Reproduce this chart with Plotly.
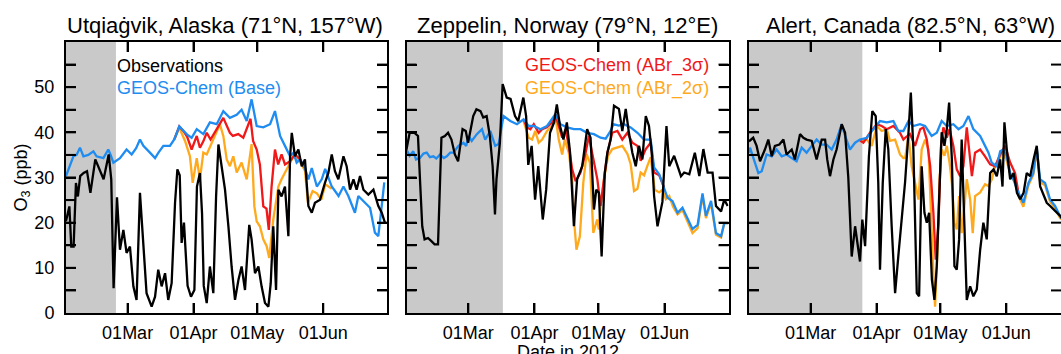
import pandas as pd
import plotly.graph_objects as go

START = "2012-02-01"

# ---------------- data (days since 01 Feb 2012, ozone in ppb) ----------------
site_titles = ["Utqiaġvik, Alaska (71°N, 157°W)", "Zeppelin, Norway (79°N, 12°E)",
               "Alert, Canada (82.5°N, 63°W)"]
month_ticks = ["2012-03-01", "2012-04-01", "2012-05-01", "2012-06-01"]
y_ticks = [0, 5, 10, 15, 20, 25, 30, 35, 40, 45, 50, 55, 60]
y_labels = ["0", "", "10", "", "20", "", "30", "", "40", "", "50", "", ""]
dark_end_days = [23.5, 45.2, 53.3]   # end of grey (polar night) period

# Utqiagvik
utq_obs_day = [0, 1.6, 2.5, 3.6, 4.7, 5.6, 6.7, 8.3, 9.9, 11.5, 13.8, 15.4, 17.7, 20.1, 21.3, 22.4,
               24, 25.4, 27, 28.5, 30.1, 31.7, 33.2, 34.8, 36.4, 37.9, 40.3, 41.9, 43.4, 45, 46.6,
               48.1, 49.7, 51.3, 52.4, 53.5, 54.4, 55.5, 57.2, 58.8, 60.4, 61.6, 63, 64, 64.8, 66.2,
               67.7, 69.3, 70.6, 71.7, 73.2, 74.8, 76.4, 77.9, 79.5, 81.1, 82.6, 84.2, 86.2, 87.3,
               88.9, 90.5, 92, 93.6, 95.2, 96.3, 97.5, 98.8, 99.9, 101.4, 103, 104.6, 105.4, 106.2,
               107.7, 109.3, 110.9, 112.4, 114, 115.6, 117.1, 119.5, 121.8, 123.4, 125, 126.5,
               128.1, 130.5, 132, 133.6, 135.2, 136.7, 138.3, 139.9, 142.2, 144.6, 146.9, 148.5, 150]
utq_obs = [20.3, 23.6, 14.7, 14.7, 28.8, 25.8, 30.3, 31, 31.4, 26.6, 34, 32.2, 29.6, 35.1, 29.6, 5.5,
           25.6, 14, 18.4, 13.3, 14.7, 5.9, 2.9, 26.6, 16.3, 4.4, 1.4, 3.6, 9.6, 5.9, 8.8,
           2.9, 6.6, 24.4, 31.8, 30.5, 15.5, 20, 6, 3.6, 5.1, 28, 31, 22, 6, 2.2,
           10.3, 4.4, 25.8, 37.3, 32.5, 27.3, 19.2, 10.3, 2.9, 7.3, 10.3, 5.1, 19.5, 16.3,
           8.8, 10.3, 5.9, 2.2, 1.4, 6.6, 19.2, 5.1, 27.3, 25.8, 28, 17, 34.7, 39.9,
           34.7, 36.2, 32.5, 34, 23.7, 22.2, 24.4, 25.1, 28.8, 31, 35.1, 31.4,
           29.6, 34.7, 32.5, 27.3, 29.6, 27.3, 30.3, 27.3, 26.2, 27.3, 23.7, 22.2, 20]
utq_base_day = [0, 2, 3.5, 5, 6.6, 8.2, 10.5, 12.9, 14.4, 17.6, 19.9, 21, 22.3, 25.4, 28.5, 30.9,
                33, 34.8, 36.4, 39.5, 41.9, 43.5, 45.8, 48.9, 51, 53.3, 55.2, 57, 59.1, 61.5, 64.6,
                67.7, 70.9, 74, 77.1, 80.3, 82.6, 85, 87.3, 89.7, 92.8, 96, 98.3, 100.7, 103,
                105.4, 107, 108.5, 110.1, 112.4, 114, 115.6, 118, 120.3, 121.9, 125, 128.2,
                130.5, 132.8, 135.9, 137.5, 140.6, 143, 145.3, 146.9, 148.5, 149.7]
utq_base = [30.3, 33, 34.7, 35, 36.6, 34.7, 35, 35.8, 34.7, 34.3, 36.2, 35, 33.3, 34.3, 36.2, 35.1,
            36.5, 38.4, 37, 35.5, 34.3, 35.5, 37, 37, 38.5, 41.3, 40.3, 39.5, 38.8, 40.7, 39.6,
            42.2, 41.8, 44.7, 43.2, 43.9, 45, 42.5, 47.3, 41.4, 41.1, 41.8, 44.7, 39.2, 37,
            34.7, 35.5, 33.3, 34, 32.1, 29.6, 32.1, 28, 29.6, 31.9, 28, 25.9,
            28, 25.9, 22.2, 25.9, 24.4, 23.3, 17.8, 17, 23.7, 28.9]
utq_abr3_day = [51, 53.3, 55.2, 57, 59.1, 61.5, 63, 64.6, 66.2, 68, 70.9, 74, 77.1, 78.5, 81, 83.4,
                86.8, 88, 89.7, 91.2, 92.8, 94.3, 95.4, 96.7, 98.3, 99.8, 101.4, 103, 105.4, 107.7,
                110.1, 112.4]
utq_abr3 = [38.5, 41.3, 40.3, 39, 36.2, 39.2, 36.6, 38, 39.9, 38.4, 40.7, 43.2, 39.9, 39.2, 39.6, 38.8,
            43, 38.1, 36.2, 32.9, 23.6, 23.1, 18.4, 28, 36.2, 32.9, 35.1, 32.9, 33.6, 35.1,
            34, 32.1]
utq_abr2_day = [51, 53.3, 56, 58.3, 59.6, 61.5, 63, 64.6, 66.2, 69.3, 72.4, 74, 75.6, 77.1, 78.7,
                80.3, 82.6, 85, 87.3, 88.6, 89.7, 91.2, 92.8, 94.4, 95.6, 97.5, 99.9, 101.4, 103.8,
                107, 110, 112.4, 113.8, 116, 118, 120.1, 122, 125]
utq_abr2 = [38.5, 41, 38.1, 34.7, 28.8, 34.3, 29.6, 35.5, 35.1, 38.4, 41.8, 39.2, 34, 32.5, 34.7,
            31.1, 33.3, 29.6, 37.4, 23.6, 20.3, 19.2, 16.3, 14.8, 12.2, 20.7, 28, 29.6, 31.8,
            34.7, 33.5, 31.5, 24.4, 27, 26.5, 25.1, 28.5, 27.5]

# Zeppelin
zep_obs_day = [0, 1.5, 3.8, 5.4, 6.5, 7.4, 8.5, 10.1, 11.7, 13.2, 14.8, 16.4, 18, 19.5, 21.1, 22.7,
               24.2, 26.3, 27.8, 28.9, 31.3, 32.8, 34.7, 36, 37.6, 39.1, 40.4, 41.5, 42.2, 43.8,
               45.1, 47, 48.8, 50.9, 52.4, 54.8, 56.1, 57.1, 58.7, 60.3, 61.8, 63.9, 65.5, 67.3,
               69.2, 70.5, 72, 73.6, 75.2, 76.7, 78.5, 80, 82.4, 84.7, 86.3, 87.9, 89, 90.2, 91.5,
               93, 94.2, 95.7, 97.3, 99.6, 101.2, 102.8, 104.3, 105.9, 107.5, 109, 110.6, 112.2,
               113.7, 115, 116.1, 117.7, 120, 121.9, 123.2, 125.5, 128.7, 130.2, 132.6, 135.2,
               137.3, 139.2, 141.2, 143.5, 145.1, 147.5, 149, 150.6]
zep_obs = [36.2, 39.9, 39.9, 39.2, 28, 19.2, 16.3, 16.6, 15.9, 15.2, 15.2, 38.8, 39.2, 39.9, 38.4, 35.1,
           33.6, 40.7, 40.3, 37.7, 43.6, 45.1, 44.7, 43.3, 43.6, 39.2, 32.5, 21.8, 29.6, 37.7,
           50.7, 47.7, 47.4, 43.6, 42.5, 47.7, 43.6, 32.8, 37, 25.1, 32.5, 20.7, 27.3, 39.9,
           42.2, 46.2, 41.4, 38.4, 42.2, 35.5, 19.2, 29.6, 32.5, 40.7, 38.8, 22.9, 27.3, 26.6, 12.5,
           31.1, 35.5, 38.4, 45.9, 45.2, 40.3, 45.2, 39.9, 35.5, 32.5, 37, 34, 43.6,
           41.4, 35.5, 25.9, 19.2, 24.6, 41.4, 32.5, 34.8, 30.3, 31.1, 30.7, 35.5,
           30.3, 36.3, 31.1, 31.1, 23.7, 22.5, 25.1, 23.7]
zep_base_day = [0, 1.5, 3.2, 4.5, 6.3, 8, 9.5, 11, 12.6, 14, 15.8, 17.5, 18.9, 20.5, 22, 24.4, 26.7,
                28, 29.1, 30.6, 33, 35.4, 36.9, 39.3, 41.6, 43.2, 45.5, 48.7, 51.8, 54.9, 57.3,
                59.7, 62.8, 65.9, 69.8, 72.2, 75.3, 78.5, 81.6, 84.7, 87.9, 91, 93.4, 95.7, 97,
                99.5, 102, 105.1, 108.3, 111.4, 114.5, 116.1, 118.5, 120.8, 122.4, 124.7, 127.1,
                129.4, 131.8, 134.1, 136.5, 138.8, 140.4, 142.8, 145.1, 147.5, 149, 151]
zep_base = [36.2, 34.8, 35.8, 34, 34.3, 35.3, 35.5, 34.5, 34.7, 34.2, 35.1, 34.3, 34.7, 35.5, 35.5, 37,
            37.7, 37, 39.2, 38.1, 39.6, 40.7, 38.4, 40.3, 37, 37.4, 43.6, 42.5, 41.8, 42.9, 41.4,
            41.4, 40.7, 41.4, 44, 41.8, 41.1, 40.7, 40.7, 39.9, 39.6, 38.8, 38.6, 40.3, 41.8,
            41.5, 41.8, 41.1, 39.9, 38.4, 38.4, 32.2, 30.7, 27.8, 25.5, 24.8, 22.2,
            23.3, 20.7, 18.6, 19.5, 26.5, 21.5, 24.8, 17.7, 17, 19.9, 19.9]
zep_abr3_day = [54.9, 56.5, 58.1, 59.7, 62, 63.6, 65.9, 68.3, 69.8, 71.4, 73, 74.6, 76.1, 77.7,
                79.3, 81.6, 84, 85.5, 87.9, 89.5, 91, 92.6, 94.2, 96.5, 98.9, 101.2, 103.6, 105.9,
                108.3, 109.8, 112.2, 114.5, 116.1, 118.5, 120.8]
zep_abr3 = [42.9, 41.1, 40.7, 41.8, 39.9, 40.7, 41.1, 42.2, 44, 41.1, 38.8, 40.7, 37, 31.8,
            29.2, 31.1, 35.5, 39.2, 33.3, 29.6, 23.7, 29.6, 35.5, 39.9, 40.3, 38.4, 39.9, 37.7,
            37, 33.7, 36.3, 37.7, 31.1, 30.5, 27.8]
zep_abr2_day = [54.9, 55.7, 57.3, 58.9, 60.4, 62, 63.6, 65.9, 68.3, 69.8, 71.4, 73, 74.2, 76.1,
                77.7, 78.8, 79.7, 81.3, 82.9, 84.4, 86, 87.6, 89.4, 90.2, 91, 92.6, 94.5, 96.5,
                98.9, 101.2, 103.6, 105.1, 106.7, 108.3, 109.8, 111.4, 112.9, 114.5, 116.4,
                118.5, 120, 121.6, 123.2, 125, 127.1, 129.4, 131.8, 134.1, 136.5, 138.8, 140.4,
                142.8, 145.1, 147.5, 149, 151]
zep_abr2 = [42.5, 41.4, 38.8, 38.4, 40.3, 37.7, 38.4, 40.3, 41.4, 43.6, 38.4, 35.1, 38.4, 35.5,
            29.6, 19.2, 14, 17, 28.8, 35.2, 33.3, 17.7, 20.7, 18.5, 23.7, 29.6, 34.8, 36.3,
            36.6, 37, 35.2, 33, 27, 27.5, 31.1, 30.5, 32.5, 34.5, 27.3,
            26.7, 27.3, 25.2, 25.9, 23.5, 21.8, 22.8, 20.2, 17.7, 18.8, 26, 21,
            24.3, 17.3, 16.7, 19.9, 19.9]

# Alert
alt_obs_day = [0, 2, 3.6, 5.2, 7.5, 9.1, 10.7, 12.2, 14.3, 16.2, 17.7, 20.1, 21.6, 24, 25.6, 27.1,
               29.5, 31.8, 34.2, 35.8, 36.8, 38.1, 39.7, 41.2, 43.6, 45.2, 46.7, 48.3, 49.9, 51,
               52.2, 53.3, 54.6, 56.4, 58, 59.6, 60.8, 61.6, 62.9, 64.3, 65.5, 67.1, 68.7, 70.2,
               71.8, 73.4, 75, 76.1, 77.3, 78.9, 80, 81.2, 82.5, 83.6, 84.7, 86, 87.2, 88.3, 89.4,
               90.6, 91.9, 93, 94.1, 95.4, 96.6, 97.7, 98.8, 100, 101.3, 102.4, 104, 105.5, 107.1,
               108.7, 110.2, 111.8, 113.4, 115, 116.5, 118.1, 119.2, 120.1, 121.2, 122.8, 124.4,
               126, 127.5, 129.1, 130.6, 132.2, 133.8, 135.3, 136.9, 138.5, 140, 141.6, 143.2,
               144.7, 146.3, 147]
alt_obs = [38, 38.8, 37, 33.6, 36.2, 38.4, 34.7, 37, 37.3, 38.4, 35.1, 36.2, 34, 39.6, 38.8, 38.4,
           38.1, 34, 38.4, 38.4, 34, 30.3, 34, 36.2, 41.8, 39.9, 30, 12.5, 19.2, 15.5,
           11.4, 20.7, 14.8, 34.7, 44.7, 43.6, 28.8, 9.6, 28.8, 40.7, 36.3, 19.2, 4.4, 12.5,
           21.4, 29, 40, 48.8, 36.2, 4.4, 3.7, 32.5, 22.2, 20, 22.2, 7.4, 2.9, 10.4, 25.2,
           40, 37, 40.7, 46.6, 34, 10.4, 9.6, 16.3, 38.4, 19.2, 2.9, 5.9, 3.7, 5.2,
           14, 20, 16.3, 31, 31.8, 30.3, 34, 28, 42.2, 36.3, 29.6, 31,
           26.6, 25.2, 26.6, 31, 30.3, 34, 37, 28, 25.9, 24.4, 23.7, 23,
           22.2, 21.5, 21]
alt_base_day = [0, 0.5, 2.8, 4.4, 6, 8.3, 10.7, 13, 15.4, 17.7, 20.1, 22.4, 24.8, 27.1, 29.5, 31.8,
                34.2, 36.5, 38.9, 41.2, 43.6, 45.2, 47.5, 49.9, 52.2, 55.4, 58.5, 61.6, 64.8,
                67.9, 70.2, 72.6, 75, 77.3, 80.4, 82.8, 85.9, 88.3, 90.6, 93, 96.1, 98.5, 100.8,
                103.2, 105.5, 108.7, 111, 112.6, 114.1, 116.5, 118.1, 119.6, 121.2, 122.8, 124.3,
                126.7, 129, 131.4, 133.7, 135.3, 136.9, 139.2, 141.6, 143.9, 146.3, 147]
alt_base = [35.5, 36.6, 33.3, 31, 31.4, 35.1, 34.7, 36.2, 34.7, 35.1, 34.3, 33.6, 36.6, 35.5, 37, 38.4,
            37.3, 37.3, 36.2, 38.4, 41.8, 39.2, 36.2, 37.7, 38.4, 38.8, 40.7, 42.5, 42.2,
            42.5, 40.3, 40.3, 42.5, 41.4, 41.8, 41.4, 39.2, 39.9, 42.5, 41.4, 41.8, 40.7, 41.4,
            43.6, 40.7, 39.2, 37, 35.5, 33.3, 32.5, 35.8, 36.2, 34.7, 31, 29.6,
            26.6, 24.4, 28.8, 31, 36.5, 29.6, 28.8, 25.1, 23.7, 21.4, 21]
alt_abr3_day = [52.2, 53.8, 56.9, 60.1, 62.4, 64.8, 67.9, 71, 72.6, 73.4, 75.7, 78.1, 80.5, 82, 83.6,
                85.2, 86.7, 87.8, 89.1, 90.3, 91.4, 93, 94.3, 96.1, 97.7, 99.3, 100.8, 102.4,
                103.5, 104.8, 106.3, 108.7, 111, 113.4, 115.7, 118.1, 120.4, 122.8, 125.1, 126.7]
alt_abr3 = [38.2, 37.7, 39.9, 41.8, 41.4, 40.7, 41.4, 39.9, 38.4, 38.8, 39.6, 37, 40.7, 41.1, 38.4,
            32.5, 22.2, 11.8, 20, 37, 41.1, 38.8, 40.7, 37, 31.8, 30.3, 32.5, 41.1,
            36.2, 30.3, 35.5, 36.2, 34.7, 32.9, 32.5, 35.1, 37, 33.3, 31, 26.6]
alt_abr2_day = [52.2, 55.4, 57.7, 60.1, 62.4, 64.8, 66.3, 68.7, 71, 72.6, 73.4, 75, 76.5, 78.1, 79.7,
                81.2, 82.8, 84.4, 85.6, 86.7, 87.5, 88.6, 89.6, 90.6, 91.9, 93, 94.3, 95.4, 96.6,
                97.7, 98.8, 100, 101.3, 102.4, 104, 105.2, 106.3, 108.7, 111, 112.6, 114.2, 115.7,
                117.3, 119, 121, 123, 125, 126.7, 129, 131.4, 133.7, 135.3, 136.9, 139.2, 141.6,
                143.9, 146.3, 147]
alt_abr2 = [38.2, 38.4, 37, 41.4, 40.3, 40.7, 38.1, 38.4, 35.1, 34.3, 34.3, 39.2, 32.5, 28.8, 25.1,
            36.2, 38.4, 36.2, 20.7, 8.8, 1.4, 13.3, 29.6, 36.2, 34.8, 37, 33.3, 28.8, 19.9,
            18.5, 25.9, 17.7, 23.7, 29.6, 25.1, 17.7, 25.9, 26.7, 28.5, 28.1, 29.6, 32.5,
            33.6, 35.5, 34, 30.5, 29, 26, 23.5, 28.3, 30.6, 36, 29, 28.3, 24.6,
            23.2, 21, 20.8]

sites = [
    dict(obs=(utq_obs_day, utq_obs), base=(utq_base_day, utq_base),
         abr3=(utq_abr3_day, utq_abr3), abr2=(utq_abr2_day, utq_abr2)),
    dict(obs=(zep_obs_day, zep_obs), base=(zep_base_day, zep_base),
         abr3=(zep_abr3_day, zep_abr3), abr2=(zep_abr2_day, zep_abr2)),
    dict(obs=(alt_obs_day, alt_obs), base=(alt_base_day, alt_base),
         abr3=(alt_abr3_day, alt_abr3), abr2=(alt_abr2_day, alt_abr2)),
]

# ---------------- styling ----------------
W, H = 1061, 354
C_OBS, C_BASE, C_ABR3, C_ABR2 = "black", "#1e8cf0", "#f01818", "#ffa91c"
GREY = "#c9c9c9"
FONT = "Liberation Sans, Arial, Helvetica, sans-serif"
FS = 18
LW = 2.3
TICK_PX = 10

t0 = pd.Timestamp(START)


def dates(days):
    return [t0 + pd.Timedelta(days=float(d)) for d in days]


x_dom_px = [(66, 387), (406.5, 728.5), (749, W)]
x_doms = [(a / W, b / W) for a, b in x_dom_px]
x_start = 0.02          # just after 01 Feb, so the edge tick gets no label
x_ends = [150.98, 150.98, 146.7]
y_dom_px = (41, 312)
y_dom = (y_dom_px[0] / H, y_dom_px[1] / H)
tfont = dict(family=FONT, size=FS, color="black")

fig = go.Figure()
layout = dict(width=W, height=H, margin=dict(l=0, r=0, t=0, b=0), autosize=False,
              plot_bgcolor="white", showlegend=False)

shapes = []
tick_line = dict(color="black", width=2)
for i, s in enumerate(sites):
    n = "" if i == 0 else str(i + 1)
    xa, ya = "x" + n, "y" + n
    for key, col in (("abr2", C_ABR2), ("abr3", C_ABR3), ("base", C_BASE), ("obs", C_OBS)):
        d, v = s[key]
        fig.add_trace(go.Scatter(x=dates(d), y=v, mode="lines", xaxis=xa, yaxis=ya,
                                 line=dict(color=col, width=LW)))
    shapes.append(dict(type="rect", xref=xa, yref=ya, x0=t0 - pd.Timedelta(days=1),
                       x1=t0 + pd.Timedelta(days=dark_end_days[i]), y0=0, y1=60,
                       fillcolor=GREY, line=dict(width=0), layer="below"))
    # inward tick marks, placed at the tick values through the axes
    fx = TICK_PX / (x_dom_px[i][1] - x_dom_px[i][0])
    fy = TICK_PX / (y_dom_px[1] - y_dom_px[0])
    for v in y_ticks[1:-1]:
        for a, b in ((0, fx), (1 - fx, 1)):
            shapes.append(dict(type="line", xref=xa + " domain", yref=ya, x0=a, x1=b,
                               y0=v, y1=v, line=tick_line, layer="above"))
    for m in month_ticks:
        for a, b in ((0, fy), (1 - fy, 1)):
            shapes.append(dict(type="line", xref=xa, yref=ya + " domain", x0=m, x1=m,
                               y0=a, y1=b, line=tick_line, layer="above"))
    layout["xaxis" + n] = dict(domain=list(x_doms[i]), anchor=ya, type="date",
                               range=[t0 + pd.Timedelta(days=x_start),
                                      t0 + pd.Timedelta(days=x_ends[i])],
                               showline=True, linecolor="black", linewidth=2, mirror="ticks",
                               ticks="inside", ticklen=10, tickwidth=2, tickcolor="black",
                               tick0="2012-02-01", dtick="M1", tickformat="%d%b",
                               showgrid=False, zeroline=False, automargin=False,
                               ticklabelstandoff=2, tickfont=tfont)
    layout["yaxis" + n] = dict(domain=list(y_dom), anchor=xa, range=[0, 60],
                               showline=True, linecolor="black", linewidth=2,
                               mirror="ticks" if i < 2 else False,
                               ticks="inside", ticklen=10, tickwidth=2, tickcolor="black",
                               tickvals=y_ticks, ticktext=y_labels, showticklabels=(i == 0),
                               showgrid=False, zeroline=False, automargin=False,
                               ticklabelstandoff=6, tickfont=tfont)

layout["shapes"] = shapes

ann = []
title_cx = [224.5, 567.5, 910]
for i, t in enumerate(site_titles):
    ann.append(dict(text=t, x=title_cx[i] / W, y=(H - 26) / H, xref="paper", yref="paper",
                    xanchor="center", yanchor="middle", showarrow=False,
                    font=dict(family=FONT, size=22, color="black")))
legend_items = [("Observations", C_OBS, 115, 66), ("GEOS-Chem (Base)", C_BASE, 115, 88),
                ("GEOS-Chem (ABr_3σ)", C_ABR3, 523, 66), ("GEOS-Chem (ABr_2σ)", C_ABR2, 523, 88)]
for txt, col, px, py in legend_items:
    ann.append(dict(text=txt, x=px / W, y=(H - py) / H, xref="paper", yref="paper",
                    xanchor="left", yanchor="middle", showarrow=False,
                    font=dict(family=FONT, size=FS, color=col)))
ann.append(dict(text="O<sub>3</sub> (ppb)", x=22 / W, y=(H - 177.5) / H, xref="paper",
                yref="paper", xanchor="center", yanchor="middle", textangle=-90,
                showarrow=False, font=dict(family=FONT, size=FS, color="black")))
ann.append(dict(text="Date in 2012", x=568 / W, y=(H - 340) / H, xref="paper", yref="paper",
                xanchor="center", yanchor="top", showarrow=False,
                font=dict(family=FONT, size=FS, color="black")))
layout["annotations"] = ann

fig.update_layout(**layout)
fig.write_html("out.html")
